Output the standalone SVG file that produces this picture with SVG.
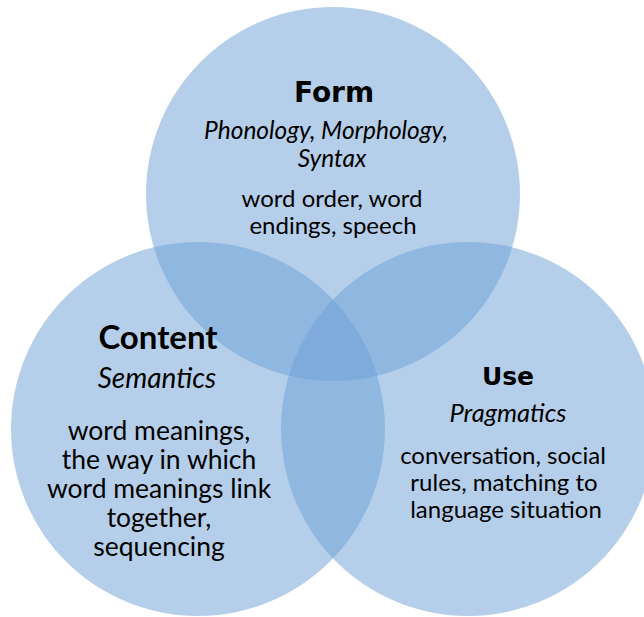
<svg xmlns="http://www.w3.org/2000/svg" width="644" height="617" viewBox="0 0 644 617">
<style>
.c{fill:#6ba0d6;fill-opacity:0.5}
.t{font-family:Lato,"Open Sans","Liberation Sans",sans-serif;fill:#000;text-anchor:middle}
.b{font-size:24px}
.bc{font-size:26.5px}
.i{font-style:italic}
.h{font-family:"DejaVu Sans","Liberation Sans",sans-serif;font-weight:bold;fill:#000;text-anchor:middle}
</style>
<rect width="644" height="617" fill="#ffffff"/>
<g id="form">
<circle class="c" cx="333" cy="194" r="187"/>
<text class="h" x="334" y="102" font-size="28">Form</text>
<text class="t i" x="326" y="139" font-size="24.5">Phonology, Morphology,</text>
<text class="t i" x="332" y="167" font-size="24.5">Syntax</text>
<text class="t b" x="332" y="207">word order, word</text>
<text class="t b" x="333" y="234">endings, speech</text>
</g>
<g id="content">
<circle class="c" cx="198" cy="429" r="187"/>
<text class="t" x="158" y="349" font-size="33" font-weight="bold">Content</text>
<text class="t i" x="157" y="388" font-size="28">Semantics</text>
<text class="t bc" x="159" y="440">word meanings,</text>
<text class="t bc" x="159" y="469">the way in which</text>
<text class="t bc" x="159" y="498">word meanings link</text>
<text class="t bc" x="159" y="527">together,</text>
<text class="t bc" x="159" y="556">sequencing</text>
</g>
<g id="use">
<circle class="c" cx="468" cy="429" r="187"/>
<text class="h" x="508" y="385" font-size="25">Use</text>
<text class="t i" x="508" y="422" font-size="25.5">Pragmatics</text>
<text class="t b" x="503" y="464">conversation, social</text>
<text class="t b" x="504" y="491">rules, matching to</text>
<text class="t b" x="506" y="518">language situation</text>
</g>
<g id="connectors"></g>
</svg>
